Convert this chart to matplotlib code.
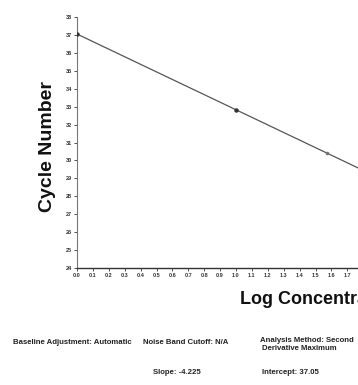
import numpy as np
import matplotlib
matplotlib.use('Agg')
import matplotlib.pyplot as plt

plt.rcParams['font.family'] = ['Liberation Sans', 'DejaVu Sans']

# standard curve fit and the standards that lie on it
slope = -4.225
intercept = 37.05
std_log_conc = [0.0, 1.0, 1.57]
x_ticks = np.round(np.arange(0.0, 1.71, 0.1), 1)
y_ticks = list(range(24, 39))

W, H = 358, 385
fig = plt.figure(figsize=(W / 100, H / 100), dpi=100)

# axes run past the right edge of the figure (cropped view)
x_max = 3.1
px_per_unit = 159
ax_left, ax_bottom, ax_top = 77, 268, 17
ax = fig.add_axes([ax_left / W, 1 - ax_bottom / H,
                   x_max * px_per_unit / W, (ax_bottom - ax_top) / H])

fit_x = np.array([0.0, x_max])
ax.plot(fit_x, intercept + slope * fit_x, color='#555555', linewidth=0.9, zorder=3)
std_y = [intercept + slope * v for v in std_log_conc]
ax.plot(std_log_conc[:2], std_y[:2], 'o', color='#333333', markersize=2.2, zorder=4)
ax.plot(std_log_conc[2:], std_y[2:], 'o', color='#777777', markersize=1.6, zorder=4)

ax.set_xlim(0, x_max)
ax.set_ylim(24, 38)
ax.set_xticks(x_ticks)
ax.set_xticklabels([f'{v:.1f}' for v in x_ticks])
ax.set_yticks(y_ticks)
ax.tick_params(axis='both', labelsize=4, length=2, width=0.6, pad=1.5, colors='#333333')
for lbl in ax.get_xticklabels() + ax.get_yticklabels():
    lbl.set_fontweight('bold')
for side in ['top', 'right']:
    ax.spines[side].set_visible(False)
ax.spines['left'].set_color('#777777')
ax.spines['left'].set_linewidth(0.8)
ax.spines['bottom'].set_color('#333333')
ax.spines['bottom'].set_linewidth(1.0)

fig.text(47 / W, 1 - 146 / H, 'Cycle Number', rotation=90, fontsize=14,
         fontweight='bold', ha='center', va='center', color='#111111')
fig.text(240 / W, 1 - 300 / H, 'Log Concentration', fontsize=13,
         fontweight='bold', ha='left', va='center', color='#111111')

small = dict(fontsize=5.6, fontweight='bold', color='#222222', va='center')
fig.text(13 / W, 1 - 342 / H, 'Baseline Adjustment: Automatic', ha='left', **small)
fig.text(143 / W, 1 - 342 / H, 'Noise Band Cutoff: N/A', ha='left', **small)
fig.text(260 / W, 1 - 340 / H, 'Analysis Method: Second', ha='left', **small)
fig.text(262 / W, 1 - 349 / H, 'Derivative Maximum', ha='left', **small)
fig.text(153 / W, 1 - 372 / H, f'Slope: {slope}', ha='left', **small)
fig.text(262 / W, 1 - 372 / H, f'Intercept: {intercept}', ha='left', **small)

fig.savefig('out.png', dpi=100)
